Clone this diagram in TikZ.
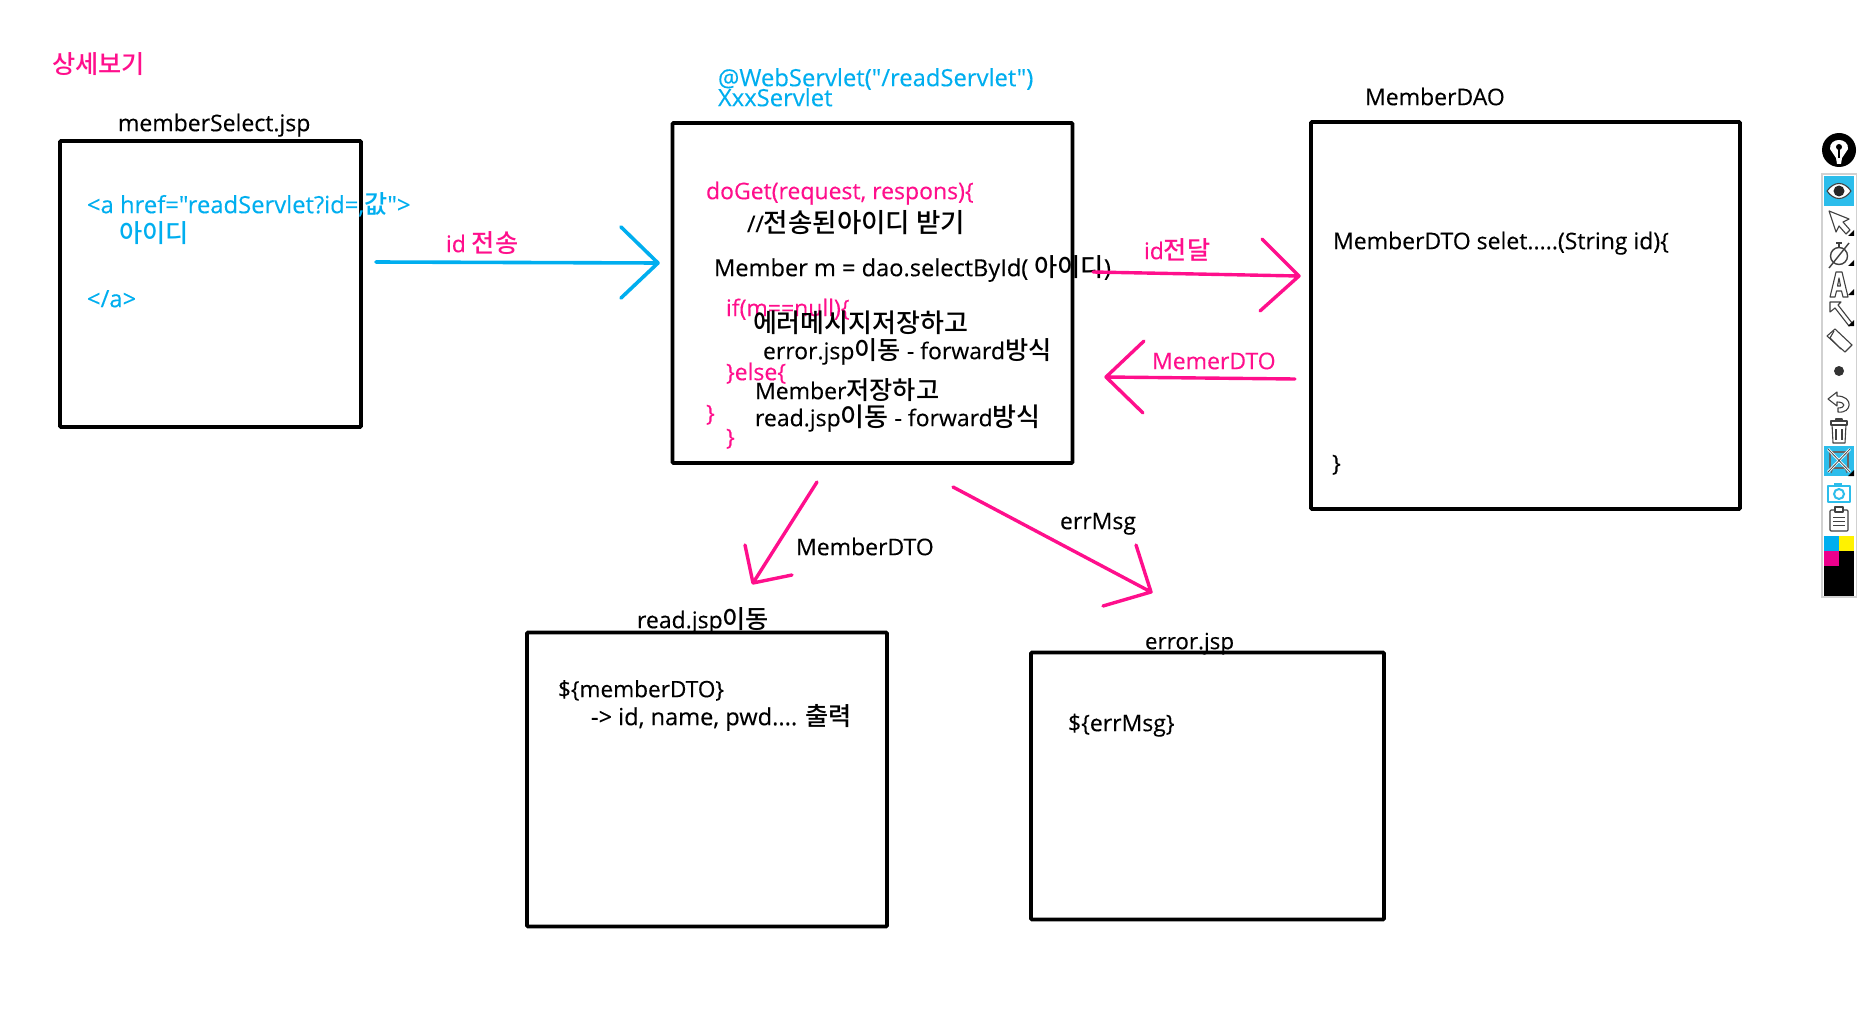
\documentclass[tikz,border=0pt]{standalone}
\usepackage{fontspec}
\newfontfamily\latinfont[FakeBold=0.25]{Open Sans}
\newfontfamily\krfont{Noto Sans CJK KR Medium}
\newcommand{\kr}[2][25.2]{{\krfont\fontsize{#1}{24}\selectfont #2}}
\usetikzlibrary{positioning}
\definecolor{inkpink}{HTML}{FF0F8C}
\definecolor{inkcyan}{HTML}{00AEEF}
\definecolor{btncyan}{HTML}{2CBDEB}
\definecolor{magswatch}{HTML}{EC008C}
\definecolor{yelswatch}{HTML}{FFF200}

\begin{document}
\begin{tikzpicture}
[x=1pt,y=-1pt,
 every node/.style={inner sep=0pt,outer sep=0pt,font=\latinfont\fontsize{23}{24}\selectfont},
 box/.style={rectangle,draw=black,line width=3.6pt,rounded corners=1pt},
 txt/.style={anchor=base west,black,yshift=-1.2pt},
 pink/.style={anchor=base west,inkpink,yshift=-1.2pt},
 cyan/.style={anchor=base west,inkcyan,yshift=-1.2pt,font=\latinfont\fontsize{23.8}{24}\selectfont},
 pinkline/.style={draw=inkpink,line width=3.4pt,line cap=round,line join=round},
 cyanline/.style={draw=inkcyan,line width=3.6pt,line cap=round,line join=round},
 icon/.style={draw=black!75,line width=1.1pt,fill=white,line join=round}]
\useasboundingbox (0,0) rectangle (1857,1024);

\node[box,minimum width=400pt,minimum height=340pt] (srv) at (872.5,293) {};
\node[box,minimum width=301pt,minimum height=286pt] (jsp) [on grid,below left=-9pt and 662pt of srv] {};
\node[box,minimum width=429pt,minimum height=387pt] (dao) [on grid,above right=-22.5pt and 653pt of srv] {};
\node[box,minimum width=360pt,minimum height=294pt] (rd)  [on grid,below left=486.5pt and 165.5pt of srv] {};
\node[box,minimum width=353pt,minimum height=267pt] (er)  [on grid,below right=493pt and 335pt of srv] {};

\node[pink] (title) at (52,72) {\kr{상세보기}};
\node[txt]  (jspT)  at (118,130) {memberSelect.jsp};
\node[cyan] (aOpen) at (87,212) {<a href="readServlet?id=,\kr{값}">};
\node[cyan] (aText) at (119,241) {\kr{아이디}};
\node[cyan] (aEnd)  at (87,306) {</a>};

\node[cyan] (srvA)  at (718,85) {@WebServlet("/readServlet")};
\node[cyan] (srvT)  at (718,105) {XxxServlet};
\node[pink] (get)   at (706,198) {doGet(request, respons)\{};
\node[txt]  (recv)  at (747,231) {//\kr[26.5]{전송된아이디 받기}};
\node[txt,font=\latinfont\fontsize{23.6}{24}\selectfont] (call)  at (714,275) {Member m = dao.selectById( \kr{아이디})};
\node[pink] (ifA)   at (726,315) {if(m==null)\{};
\node[txt]  (err1)  at (753,331) {\kr[26]{에러메시지저장하고}};
\node[txt]  (err2)  at (763,358) {error.jsp\kr{이동} - forward\kr{방식}};
\node[pink] (elseA) at (726,379) {\}else\{};
\node[txt]  (ok1)   at (755,398) {Member\kr{저장하고}};
\node[txt]  (ok2)   at (755,425) {read.jsp\kr[26]{이동} - forward\kr[26]{방식}};
\node[pink] (endA)  at (706,420) {\}};
\node[pink] (endB)  at (726,444) {\}};

\node[txt]  (daoT)  at (1365,104) {MemberDAO};
\node[txt]  (daoA)  at (1333,248) {MemberDTO selet.....(String id)\{};
\node[txt]  (daoB)  at (1332,470) {\}};

\node[pink] (send)  at (446,251) {id \kr{전송}};
\node[pink] (pass)  at (1144,258) {id\kr{전달}};
\node[pink] (back)  at (1152,368) {MemerDTO};
\node[txt]  (fwdA)  at (796,554) {MemberDTO};
\node[txt]  (fwdB)  at (1060,528) {errMsg};

\node[txt]  (rdT)   at (637,627) {read.jsp\kr{이동}};
\node[txt,font=\latinfont\fontsize{22.6}{24}\selectfont]  (rdA)   at (558,696) {\$\{memberDTO\}};
\node[txt,font=\latinfont\fontsize{23.6}{24}\selectfont]  (rdB)   at (591,724) {-> id, name, pwd.... \kr{출력}};
\node[txt,font=\latinfont\fontsize{22.4}{24}\selectfont]  (erT)   at (1145,648) {error.jsp};
\node[txt]  (erA)   at (1068,730) {\$\{errMsg\}};

% hand drawn arrows
\coordinate (a1) at (376,262);
\coordinate (a2) at (658,263);
\coordinate (a3) at (621,227);
\coordinate (a4) at (621,298);
\draw[cyanline] (a1) -- (a2) (a3) -- (a2) -- (a4);
\coordinate (b1) at (1093,272);
\coordinate (b2) at (1299,276);
\coordinate (b3) at (1262,239);
\coordinate (b4) at (1260,311);
\draw[pinkline] (b1) -- (b2) (b3) -- (b2) -- (b4);
\coordinate (c1) at (1295,379);
\coordinate (c2) at (1106,377);
\coordinate (c3) at (1144,341);
\coordinate (c4) at (1143,413);
\draw[pinkline] (c1) -- (c2) (c3) -- (c2) -- (c4);
\coordinate (d1) at (817,482);
\coordinate (d2) at (753,583);
\coordinate (d3) at (745,545);
\coordinate (d4) at (792,575);
\draw[pinkline] (d1) -- (d2) (d3) -- (d2) -- (d4);
\coordinate (e1) at (953,487);
\coordinate (e2) at (1151,592);
\coordinate (e3) at (1136,545);
\coordinate (e4) at (1103,606);
\draw[pinkline] (e1) -- (e2) (e3) -- (e2) -- (e4);

% toolbar
\fill[black!18] (1821,173) rectangle (1857,598);
\fill[white] (1823,175) rectangle (1856,596);
\fill[black] (1839,150) circle (17);
\fill[white] (1837,164) -- (1836,158) -- (1830,149) .. controls (1829,137) and (1849,137) .. (1848,149) -- (1842,158) -- (1841,164) -- cycle;
\fill[black] (1839,147) circle (3);
\draw[black,line width=1.4pt] (1839,147) -- (1839,158);

\fill[btncyan] (1824,176) rectangle (1854,206);
\draw[icon] (1827,191) .. controls (1834,181) and (1844,181) .. (1851,191) .. controls (1844,201) and (1834,201) .. (1827,191) -- cycle;
\fill[black!85] (1839,191) circle (5.5);

\draw[icon] (1829,211) -- (1849,219) -- (1843,222) -- (1850,230) -- (1846,234) -- (1839,226) -- (1836,232) -- cycle;
\draw[icon,line width=1.4pt] (1839,256) circle (8.5);
\draw[icon,line width=1.4pt] (1829,268) -- (1849,243);
\draw[icon,line width=1.4pt] (1836,243) -- (1842,243) (1839,243) -- (1839,247);
\draw[icon] (1830,297) -- (1836,272) -- (1842,272) -- (1848,297) -- (1843,297) -- (1841.5,291) -- (1836.5,291) -- (1835,297) -- cycle;
\draw[icon] (1837.5,286) -- (1839,278) -- (1840.5,286) -- cycle;
\draw[icon] (1830,302) -- (1841,302) -- (1838,305) -- (1852,323) -- (1849,326) -- (1835,308) -- (1830,312) -- cycle;
\draw[icon] (1827,336) -- (1835,329) -- (1852,345) -- (1845,352) -- cycle;
\draw[icon] (1834,331) -- (1830,338) -- (1841,349);
\fill[black!80] (1839,371) circle (5);
\draw[icon] (1828,399) -- (1837,392) -- (1837,396) .. controls (1854,396) and (1852,414) .. (1838,412) -- (1838,408) .. controls (1846,408) and (1846,402) .. (1837,402) -- (1837,406) -- cycle;
\draw[icon] (1832,424) -- (1846,424) -- (1845,443) -- (1833,443) -- cycle;
\draw[icon] (1831,421) rectangle (1847,425);
\draw[icon] (1836,419) rectangle (1842,421);
\draw[icon] (1836,429) -- (1836,440) (1842,429) -- (1842,440);

\fill[btncyan] (1824,446) rectangle (1854,476);
\draw[icon,fill=none,draw=black!60] (1830,452) rectangle (1848,468);
\draw[black!60,line width=1pt] (1833,468) -- (1831,473) (1845,468) -- (1847,473);
\draw[white,line width=2.5pt] (1828,449) -- (1850,472) (1850,449) -- (1828,472);
\draw[black!70,line width=.8pt] (1828,449) -- (1850,472) (1850,449) -- (1828,472);

\draw[icon,draw=btncyan,line width=1.3pt] (1828,486) rectangle (1850,502);
\draw[btncyan,line width=2pt] (1839,494) circle (5);
\fill[btncyan] (1834,483) rectangle (1842,486);
\draw[icon,rounded corners=1pt] (1830,510) rectangle (1848,531);
\draw[icon] (1835,507) rectangle (1843,512);
\draw[black!75,line width=1pt] (1833,517) -- (1845,517) (1833,521) -- (1845,521) (1833,525) -- (1845,525);

\foreach \ty in {236,266,295,326,476}
  \fill[black] (1854,\ty) -- (1854,\ty-6) -- (1848,\ty) -- cycle;

\fill[inkcyan]   (1824,536) rectangle (1839,551);
\fill[yelswatch] (1839,536) rectangle (1854,551);
\fill[magswatch] (1824,551) rectangle (1839,566);
\fill[black]     (1839,551) rectangle (1854,566);
\fill[black]     (1824,566) rectangle (1854,596);
\end{tikzpicture}
\end{document}
